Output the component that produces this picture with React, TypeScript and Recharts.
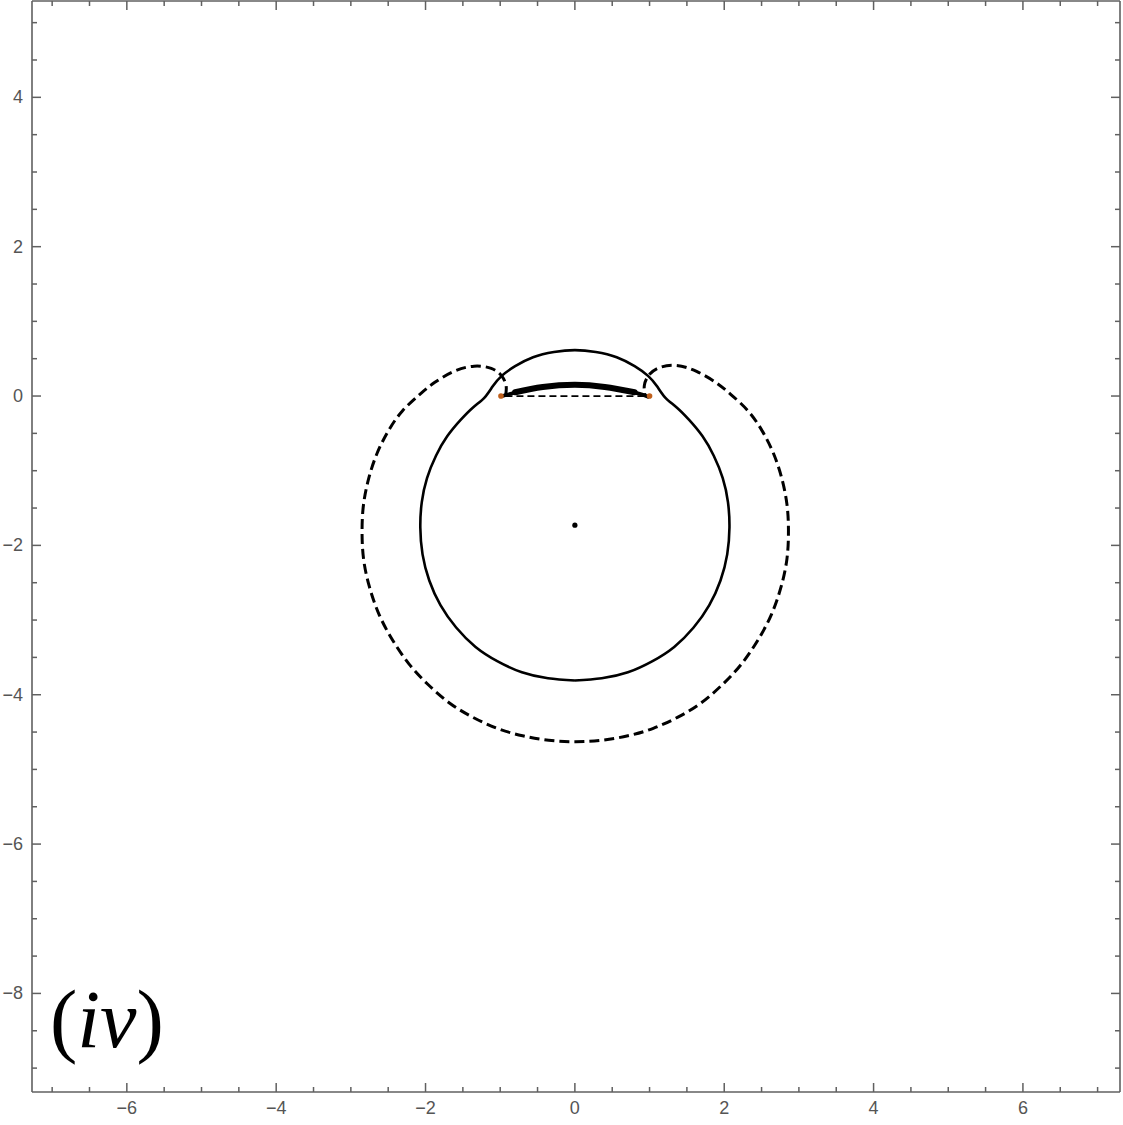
import { ScatterChart, Scatter, XAxis, YAxis } from "recharts";

// tick positions (every 0.5, labels on the even numbers)
const xTicks = [-7, -6.5, -6, -5.5, -5, -4.5, -4, -3.5, -3, -2.5, -2, -1.5, -1, -0.5, 0, 0.5, 1, 1.5, 2, 2.5, 3, 3.5, 4, 4.5, 5, 5.5, 6, 6.5, 7];
const yTicks = [-9, -8.5, -8, -7.5, -7, -6.5, -6, -5.5, -5, -4.5, -4, -3.5, -3, -2.5, -2, -1.5, -1, -0.5, 0, 0.5, 1, 1.5, 2, 2.5, 3, 3.5, 4, 4.5, 5];
const majorTicks = [-8, -6, -4, -2, 0, 2, 4, 6];

// closed solid boundary (circle with the cap on top), starting at the bottom
const solidBoundary = [
  { x: 0, y: -3.81 }, { x: 0.36, y: -3.78 }, { x: 0.71, y: -3.7 }, { x: 1.04, y: -3.55 },
  { x: 1.33, y: -3.36 }, { x: 1.59, y: -3.1 }, { x: 1.8, y: -2.8 }, { x: 1.95, y: -2.47 },
  { x: 2.04, y: -2.12 }, { x: 2.07, y: -1.76 }, { x: 2.05, y: -1.42 }, { x: 1.98, y: -1.1 },
  { x: 1.86, y: -0.8 }, { x: 1.71, y: -0.54 }, { x: 1.53, y: -0.32 }, { x: 1.36, y: -0.15 },
  { x: 1.21, y: -0.02 }, { x: 1.1, y: 0.13 }, { x: 0.98, y: 0.27 }, { x: 0.8, y: 0.4 },
  { x: 0.56, y: 0.52 }, { x: 0.28, y: 0.59 }, { x: 0, y: 0.615 },
  { x: -0.28, y: 0.59 }, { x: -0.56, y: 0.52 }, { x: -0.8, y: 0.4 }, { x: -0.98, y: 0.27 },
  { x: -1.1, y: 0.13 }, { x: -1.21, y: -0.02 }, { x: -1.36, y: -0.15 }, { x: -1.53, y: -0.32 },
  { x: -1.71, y: -0.54 }, { x: -1.86, y: -0.8 }, { x: -1.98, y: -1.1 }, { x: -2.05, y: -1.42 },
  { x: -2.07, y: -1.76 }, { x: -2.04, y: -2.12 }, { x: -1.95, y: -2.47 }, { x: -1.8, y: -2.8 },
  { x: -1.59, y: -3.1 }, { x: -1.33, y: -3.36 }, { x: -1.04, y: -3.55 }, { x: -0.71, y: -3.7 },
  { x: -0.36, y: -3.78 }, { x: 0, y: -3.81 },
];

// dashed outer curve, from the left endpoint round the bottom to the right endpoint
const dashedOuter = [
  { x: -0.93, y: 0.0 }, { x: -0.92, y: 0.13 }, { x: -0.98, y: 0.27 }, { x: -1.12, y: 0.37 },
  { x: -1.35, y: 0.4 }, { x: -1.62, y: 0.33 }, { x: -1.88, y: 0.18 }, { x: -2.08, y: 0.02 },
  { x: -2.31, y: -0.2 }, { x: -2.5, y: -0.47 }, { x: -2.65, y: -0.77 }, { x: -2.76, y: -1.1 },
  { x: -2.83, y: -1.45 }, { x: -2.85, y: -1.8 }, { x: -2.83, y: -2.18 }, { x: -2.75, y: -2.56 },
  { x: -2.62, y: -2.93 }, { x: -2.44, y: -3.27 }, { x: -2.22, y: -3.59 }, { x: -1.97, y: -3.86 },
  { x: -1.68, y: -4.11 }, { x: -1.37, y: -4.3 }, { x: -1.04, y: -4.45 }, { x: -0.7, y: -4.55 },
  { x: -0.35, y: -4.61 }, { x: 0.01, y: -4.63 }, { x: 0.36, y: -4.61 }, { x: 0.71, y: -4.55 },
  { x: 1.05, y: -4.45 }, { x: 1.38, y: -4.3 }, { x: 1.69, y: -4.11 }, { x: 1.98, y: -3.86 },
  { x: 2.23, y: -3.59 }, { x: 2.45, y: -3.27 }, { x: 2.63, y: -2.93 }, { x: 2.76, y: -2.56 },
  { x: 2.84, y: -2.18 }, { x: 2.86, y: -1.8 }, { x: 2.84, y: -1.45 }, { x: 2.77, y: -1.1 },
  { x: 2.66, y: -0.77 }, { x: 2.51, y: -0.47 }, { x: 2.32, y: -0.2 }, { x: 2.09, y: 0.02 },
  { x: 1.89, y: 0.18 }, { x: 1.63, y: 0.33 }, { x: 1.36, y: 0.41 }, { x: 1.13, y: 0.38 },
  { x: 0.99, y: 0.28 }, { x: 0.93, y: 0.14 }, { x: 0.94, y: 0.0 },
];

// thin dashed chord along y = 0
const dashedChord = [{ x: -0.93, y: 0 }, { x: 0.94, y: 0 }];

// thick arc above the chord
const thickArc = [
  { x: -0.97, y: 0.0 }, { x: -0.9, y: 0.02 }, { x: -0.74, y: 0.06 }, { x: -0.43, y: 0.12 },
  { x: 0, y: 0.15 }, { x: 0.4, y: 0.12 }, { x: 0.74, y: 0.06 }, { x: 0.9, y: 0.02 }, { x: 0.98, y: -0.01 },
];
const thickArcCore = [
  { x: -0.8, y: 0.05 }, { x: -0.43, y: 0.12 }, { x: 0, y: 0.15 }, { x: 0.4, y: 0.12 }, { x: 0.8, y: 0.05 },
];

const centerPoint = [{ x: 0.0, y: -1.73 }];
const endPoints = [{ x: -0.99, y: 0 }, { x: 1.0, y: 0 }];

const FRAME = "#606060";
const LABEL = "#555555";
const fmt = (v: number) => (v < 0 ? `\u2212${-v}` : `${v}`);

function makeTick(side: "bottom" | "top" | "left" | "right") {
  return (props: any) => {
    const { x, y, payload } = props;
    const v = payload.value;
    const major = majorTicks.includes(v);
    const len = major ? 9 : 5;
    let x2 = x;
    let y2 = y;
    if (side === "bottom") y2 = y - len;
    if (side === "top") y2 = y + len;
    if (side === "left") x2 = x + len;
    if (side === "right") x2 = x - len;
    return (
      <g>
        <line x1={x} y1={y} x2={x2} y2={y2} stroke={FRAME} strokeWidth={1.5} />
        {major && side === "bottom" && (
          <text x={x} y={y + 22} textAnchor="middle" fontSize={18} fill={LABEL} fontFamily="Liberation Sans">
            {fmt(v)}
          </text>
        )}
        {major && side === "left" && (
          <text x={x - 9} y={y + 6} textAnchor="end" fontSize={18} fill={LABEL} fontFamily="Liberation Sans">
            {fmt(v)}
          </text>
        )}
      </g>
    );
  };
}

const noShape = () => <g />;

export default function App() {
  return (
    <div style={{ position: "absolute", left: 0, top: 0, width: 1123, height: 1125, background: "#fff" }}>
      <ScatterChart width={1123} height={1125} margin={{ top: 0, right: 0, bottom: 0, left: 0 }}>
        <XAxis
          xAxisId="b"
          type="number"
          dataKey="x"
          domain={[-7.27, 7.3]}
          allowDataOverflow
          ticks={xTicks}
          interval={0}
          height={33}
          tickSize={0}
          tickMargin={0}
          tickLine={false}
          axisLine={{ stroke: FRAME, strokeWidth: 1.6 }}
          tick={makeTick("bottom")}
        />
        <XAxis
          xAxisId="t"
          orientation="top"
          type="number"
          dataKey="x"
          domain={[-7.27, 7.3]}
          allowDataOverflow
          ticks={xTicks}
          interval={0}
          height={1}
          tickSize={0}
          tickMargin={0}
          tickLine={false}
          axisLine={{ stroke: FRAME, strokeWidth: 1.6 }}
          tick={makeTick("top")}
        />
        <YAxis
          yAxisId="l"
          type="number"
          dataKey="y"
          domain={[-9.32, 5.29]}
          allowDataOverflow
          ticks={yTicks}
          interval={0}
          width={32}
          tickSize={0}
          tickMargin={0}
          tickLine={false}
          axisLine={{ stroke: FRAME, strokeWidth: 1.6 }}
          tick={makeTick("left")}
        />
        <YAxis
          yAxisId="r"
          orientation="right"
          type="number"
          dataKey="y"
          domain={[-9.32, 5.29]}
          allowDataOverflow
          ticks={yTicks}
          interval={0}
          width={3}
          tickSize={0}
          tickMargin={0}
          tickLine={false}
          axisLine={{ stroke: FRAME, strokeWidth: 1.6 }}
          tick={makeTick("right")}
        />

        <Scatter
          xAxisId="b"
          yAxisId="l"
          data={dashedOuter}
          line={{ stroke: "#000", strokeWidth: 3, strokeDasharray: "10 5" }}
          lineJointType="natural"
          shape={noShape}
          isAnimationActive={false}
        />
        <Scatter
          xAxisId="b"
          yAxisId="l"
          data={dashedChord}
          line={{ stroke: "#000", strokeWidth: 1.8, strokeDasharray: "7 4" }}
          shape={noShape}
          isAnimationActive={false}
        />
        <Scatter
          xAxisId="b"
          yAxisId="l"
          data={solidBoundary}
          line={{ stroke: "#000", strokeWidth: 2.6 }}
          lineJointType="natural"
          shape={noShape}
          isAnimationActive={false}
        />
        <Scatter
          xAxisId="b"
          yAxisId="l"
          data={thickArc}
          line={{ stroke: "#000", strokeWidth: 3.8, strokeLinecap: "round" }}
          lineJointType="natural"
          shape={noShape}
          isAnimationActive={false}
        />
        <Scatter
          xAxisId="b"
          yAxisId="l"
          data={thickArcCore}
          line={{ stroke: "#000", strokeWidth: 6, strokeLinecap: "round" }}
          lineJointType="natural"
          shape={noShape}
          isAnimationActive={false}
        />
        <Scatter
          xAxisId="b"
          yAxisId="l"
          data={centerPoint}
          shape={(p: any) => <circle cx={p.cx} cy={p.cy} r={2.6} fill="#000" />}
          isAnimationActive={false}
        />
        <Scatter
          xAxisId="b"
          yAxisId="l"
          data={endPoints}
          shape={(p: any) => <circle cx={p.cx} cy={p.cy} r={2.8} fill="#c0601c" />}
          isAnimationActive={false}
        />
      </ScatterChart>
      <svg
        width={1123}
        height={1125}
        style={{ position: "absolute", left: 0, top: 0, pointerEvents: "none" }}
      >
        <text x={50} y={1047} fontSize={82} fontFamily="Liberation Serif" fill="#000">
          (<tspan fontStyle="italic">iv</tspan>)
        </text>
      </svg>
    </div>
  );
}
